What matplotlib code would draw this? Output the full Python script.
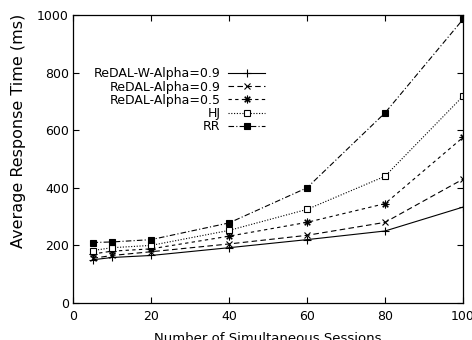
import matplotlib
matplotlib.use('Agg')
import matplotlib.pyplot as plt

plt.rcParams['font.family'] = ['DejaVu Sans']

sessions = [5, 10, 20, 40, 60, 80, 100]
redal_w_09 = [150, 158, 165, 192, 220, 250, 333]
redal_09 = [155, 165, 178, 205, 235, 280, 430]
redal_05 = [170, 180, 188, 232, 280, 345, 575]
hj = [182, 192, 200, 252, 325, 440, 718]
rr = [210, 212, 220, 278, 400, 660, 985]

labels = ['ReDAL-W-Alpha=0.9', 'ReDAL-Alpha=0.9', 'ReDAL-Alpha=0.5', 'HJ', 'RR']
xticks = [0, 20, 40, 60, 80, 100]
yticks = [0, 200, 400, 600, 800, 1000]

fig = plt.figure(figsize=(4.72, 3.4), dpi=100)
ax = fig.add_axes([73 / 472, 1 - 303 / 340, 390 / 472, 288 / 340])

lw = 0.8
ax.plot(sessions, redal_w_09, color='black', lw=lw, ls='-', marker='+', ms=6, mew=0.8, label=labels[0])
ax.plot(sessions, redal_09, color='black', lw=lw, ls=(0, (5, 3)), marker='x', ms=4.5, mew=0.8, label=labels[1])
ax.plot(sessions, redal_05, color='black', lw=lw, ls=(0, (3, 3)), marker=(8, 2, 0), ms=5.5, mew=0.8, label=labels[2])
ax.plot(sessions, hj, color='black', lw=lw, ls=(0, (1, 1.5)), marker='s', ms=4.5, mfc='white', mew=0.8, label=labels[3])
ax.plot(sessions, rr, color='black', lw=lw, ls=(0, (5, 2, 1, 2)), marker='s', ms=4.5, mfc='black', mew=0.8, label=labels[4])

ax.set_xlim(0, 100)
ax.set_ylim(0, 1000)
ax.set_xticks(xticks)
ax.set_yticks(yticks)
ax.tick_params(direction='in', length=4.5, width=0.8, top=True, right=True, labelsize=9)
ax.tick_params(axis='x', pad=5)
ax.tick_params(axis='y', pad=3)
for s in ax.spines.values():
    s.set_linewidth(0.9)

ax.set_xlabel('Number of Simultaneous Sessions', fontsize=9.5)
ax.xaxis.set_label_coords(0.5, -0.1)
ax.set_ylabel('Average Response Time (ms)', fontsize=11.5)
ax.yaxis.set_label_coords(-0.12, 0.597)

ax.legend(loc='upper left', bbox_to_anchor=(0.037, 0.84), frameon=False, markerfirst=False,
          fontsize=9, handlelength=3.0, handletextpad=0.6, labelspacing=0.02, borderpad=0)

fig.savefig('out.png', dpi=100)
